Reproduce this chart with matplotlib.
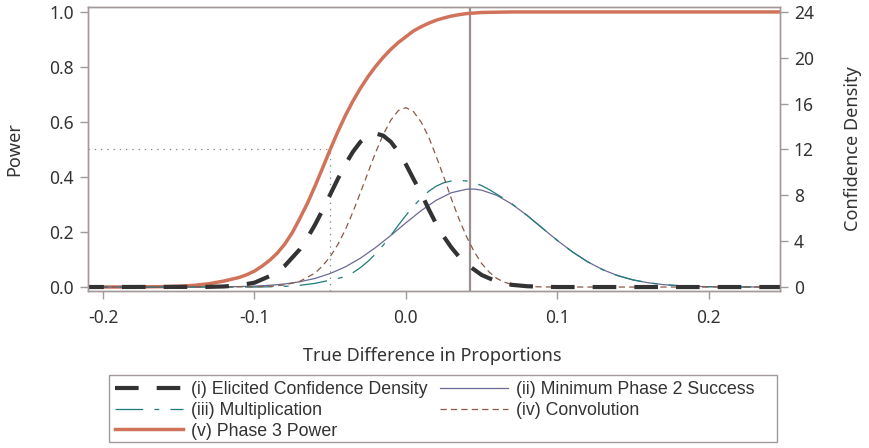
import matplotlib
matplotlib.use("Agg")
import matplotlib.pyplot as plt
from matplotlib.patches import Rectangle

plt.rcParams['font.family'] = ['Noto Sans', 'DejaVu Sans']
plt.rcParams['lines.scale_dashes'] = False

# (v) Phase 3 power, left axis
x_power = [-0.215, -0.18, -0.16, -0.15, -0.14, -0.13, -0.12, -0.11, -0.105, -0.10,
           -0.095, -0.09, -0.085, -0.08, -0.075, -0.07, -0.065, -0.06, -0.055, -0.05,
           -0.045, -0.04, -0.035, -0.03, -0.025, -0.02, -0.015, -0.01, -0.005, 0.0,
           0.005, 0.01, 0.015, 0.02, 0.025, 0.03, 0.035, 0.04, 0.05, 0.06,
           0.07, 0.08, 0.25]
power = [0.0, 0.0003, 0.0015, 0.003, 0.006, 0.012, 0.022, 0.035, 0.045, 0.058,
         0.076, 0.097, 0.123, 0.156, 0.198, 0.25, 0.305, 0.367, 0.433, 0.5,
         0.564, 0.623, 0.676, 0.723, 0.765, 0.802, 0.835, 0.864, 0.889, 0.91,
         0.931, 0.946, 0.959, 0.970, 0.978, 0.985, 0.99, 0.994, 0.998, 0.999,
         1.0, 1.0, 1.0]

# (i) elicited confidence density
x_elicited = [-0.215, -0.13, -0.12, -0.11, -0.10, -0.09, -0.08, -0.07, -0.065, -0.06,
              -0.055, -0.05, -0.045, -0.04, -0.035, -0.03, -0.025, -0.02, -0.015, -0.01,
              -0.005, 0.0, 0.005, 0.01, 0.015, 0.02, 0.025, 0.03, 0.035, 0.04,
              0.05, 0.06, 0.07, 0.08, 0.09, 0.10, 0.25]
d_elicited = [0.0, 0.015, 0.05, 0.15, 0.38, 0.95, 1.85, 3.3, 4.3, 5.44,
              6.72, 8.07, 9.42, 10.7, 11.8, 12.67, 13.21, 13.4, 13.21, 12.67,
              11.8, 10.7, 9.42, 8.2, 6.8, 5.5, 4.4, 3.45, 2.65, 2.0,
              1.05, 0.48, 0.19, 0.07, 0.02, 0.0, 0.0]

# (ii) minimum phase 2 success
x_minimum = [-0.215, -0.15, -0.14, -0.13, -0.12, -0.11, -0.10, -0.09, -0.08, -0.07,
             -0.06, -0.05, -0.04, -0.03, -0.02, -0.01, 0.0, 0.01, 0.02, 0.03,
             0.04, 0.045, 0.05, 0.06, 0.07, 0.08, 0.09, 0.10, 0.11, 0.12,
             0.13, 0.14, 0.15, 0.16, 0.17, 0.18, 0.19, 0.20, 0.21, 0.22, 0.25]
d_minimum = [0.0, 0.002, 0.004, 0.009, 0.02, 0.04, 0.08, 0.15, 0.27, 0.46,
             0.75, 1.18, 1.76, 2.52, 3.45, 4.5, 5.6, 6.66, 7.57, 8.23,
             8.53, 8.55, 8.45, 8.0, 7.23, 6.25, 5.15, 4.06, 3.06, 2.2,
             1.51, 0.99, 0.62, 0.37, 0.21, 0.12, 0.06, 0.03, 0.015, 0.007, 0.0]

# (iii) multiplication
x_multi = [-0.215, -0.10, -0.09, -0.08, -0.07, -0.06, -0.05, -0.04, -0.035, -0.03,
           -0.025, -0.02, -0.015, -0.01, -0.005, 0.0, 0.005, 0.01, 0.015, 0.02,
           0.025, 0.03, 0.035, 0.04, 0.045, 0.05, 0.055, 0.06, 0.065, 0.07,
           0.08, 0.09, 0.10, 0.11, 0.12, 0.13, 0.14, 0.15, 0.16, 0.17,
           0.18, 0.19, 0.20, 0.21, 0.22, 0.25]
d_multi = [0.0, 0.0, 0.02, 0.06, 0.15, 0.32, 0.6, 0.9, 1.25, 1.7,
           2.25, 2.9, 3.65, 4.5, 5.4, 6.25, 7.05, 7.75, 8.35, 8.8,
           9.1, 9.25, 9.3, 9.25, 9.1, 8.85, 8.5, 8.1, 7.7, 7.25,
           6.25, 5.15, 4.06, 3.06, 2.2, 1.51, 0.99, 0.62, 0.37, 0.21,
           0.12, 0.06, 0.03, 0.015, 0.007, 0.0]

# (iv) convolution
x_conv = [-0.215, -0.10, -0.09, -0.08, -0.07, -0.06, -0.055, -0.05, -0.045, -0.04,
          -0.035, -0.03, -0.025, -0.02, -0.015, -0.01, -0.005, 0.0, 0.005, 0.01,
          0.015, 0.02, 0.025, 0.03, 0.035, 0.04, 0.045, 0.05, 0.055, 0.06,
          0.065, 0.07, 0.08, 0.09, 0.10, 0.25]
d_conv = [0.0, 0.02, 0.06, 0.18, 0.5, 1.22, 1.85, 2.65, 3.7, 5.0,
          6.55, 8.25, 10.0, 11.75, 13.3, 14.55, 15.4, 15.65, 15.3, 14.4,
          13.1, 11.4, 9.6, 7.7, 5.95, 4.4, 3.1, 2.05, 1.3, 0.75,
          0.42, 0.22, 0.05, 0.01, 0.0, 0.0]

ref_diff = 0.042      # vertical reference line
median_diff = -0.05   # power = 0.5 point

x_ticks = [-0.2, -0.1, 0.0, 0.1, 0.2]
x_ticklabels = ['-0.2', '-0.1', '0.0', '0.1', '0.2']
power_ticks = [0.0, 0.2, 0.4, 0.6, 0.8, 1.0]
density_ticks = [0, 4, 8, 12, 16, 20, 24]

frame_col = '#a39999'
text_col = '#333333'

fig = plt.figure(figsize=(8.69, 4.48), dpi=100)
ax = fig.add_axes([0.1013, 0.3504, 0.7963, 0.6340])
ax2 = ax.twinx()

xlim = (-0.2099, 0.247)
ylim = (-0.0145, 1.018)
ax.set_xlim(xlim)
ax.set_ylim(ylim)
ax2.set_ylim(ylim[0] * 24, ylim[1] * 24)

# reference lines
ax.axvline(ref_diff, color='#9a8f8f', lw=1.6, zorder=1)
ax.plot([xlim[0], median_diff], [0.5, 0.5], color='#888888', lw=0.9,
        dashes=(1, 3.5), zorder=1)
ax.plot([median_diff, median_diff], [ylim[0], 0.5], color='#888888', lw=0.9,
        dashes=(1, 3.5), zorder=1)

h5, = ax.plot(x_power, power, color='#d0735a', lw=2.5, label='(v) Phase 3 Power')

h2, = ax2.plot(x_minimum, d_minimum, color='#6a6a96', lw=0.9,
               label='(ii) Minimum Phase 2 Success')
h3, = ax2.plot(x_multi, d_multi, color='#1e7c7c', lw=0.9,
               dashes=(20, 8, 3.5, 8), label='(iii) Multiplication')
h4, = ax2.plot(x_conv, d_conv, color='#8a5a48', lw=0.9,
               dashes=(4.5, 3), label='(iv) Convolution')
h1, = ax2.plot(x_elicited, d_elicited, color='#333333', lw=3.0,
               dashes=(17, 13), label='(i) Elicited Confidence Density')

for a in (ax, ax2):
    for s in a.spines.values():
        s.set_color(frame_col)
        s.set_linewidth(1.0)
    a.tick_params(colors=frame_col, labelcolor=text_col, labelsize=12.5,
                  length=6, width=1)

ax.set_xticks(x_ticks)
ax.set_xticklabels(x_ticklabels)
ax.set_yticks(power_ticks)
ax.set_yticklabels(['%.1f' % v for v in power_ticks])
ax2.set_yticks(density_ticks)
ax.tick_params(axis='x', pad=7)
ax.tick_params(axis='y', pad=4)
ax2.tick_params(axis='y', pad=4)

ax.set_xlabel('True Difference in Proportions', fontsize=13, color=text_col, va='top')
ax.set_ylabel('Power', fontsize=13, color=text_col, va='center')
ax2.set_ylabel('Confidence Density', fontsize=13, color=text_col, va='center')
ax.xaxis.set_label_coords(0.497, -0.197)
ax.yaxis.set_label_coords(-0.106, 0.5)
ax2.yaxis.set_label_coords(1.1055, 0.5)

# legend frame drawn separately so the columns keep their own spacing
fig.add_artist(Rectangle((0.1254, 0.0134), 0.7687, 0.1496, transform=fig.transFigure,
                         facecolor='white', edgecolor=frame_col, lw=1.0, zorder=0))

leg = fig.legend([h1, h3, h5, h2, h4],
                 [h.get_label() for h in (h1, h3, h5, h2, h4)],
                 ncol=2, loc='upper left', bbox_to_anchor=(0.1323, 0.149),
                 prop={'family': 'Liberation Sans', 'size': 12.8},
                 handlelength=3.8, handletextpad=0.45, labelspacing=0.21,
                 borderpad=0, columnspacing=0.75, frameon=False, borderaxespad=0)
for t in leg.get_texts():
    t.set_color(text_col)

fig.savefig('out.png', dpi=100)
